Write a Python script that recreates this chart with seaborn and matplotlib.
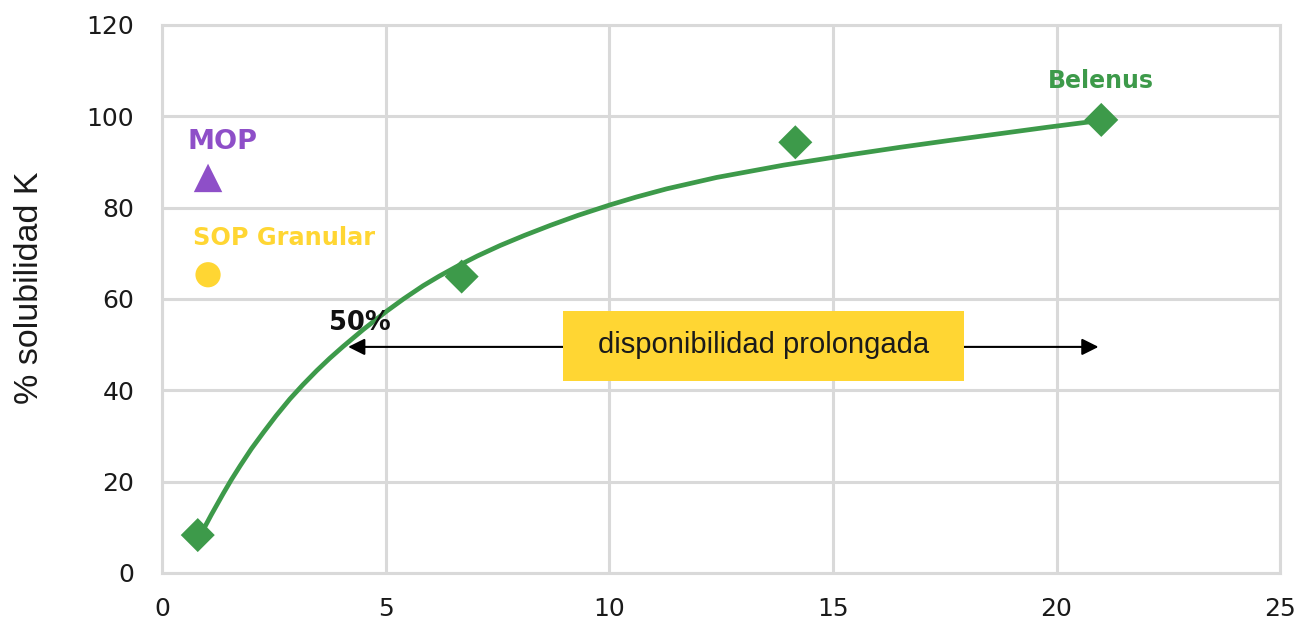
import numpy as np
import pandas as pd
import seaborn as sns
import matplotlib
matplotlib.use("Agg")
import matplotlib.pyplot as plt
from matplotlib.patches import Rectangle

# data
belenus_x = [0.8, 6.7, 14.16, 21.0]
belenus_y = [8.3, 64.9, 94.3, 99.2]
mop_x, mop_y = [1.03], [86.5]
sop_x, sop_y = [1.03], [65.3]
# trend curve
curve_x = [0.92, 1.1, 1.37, 1.55, 1.75, 2.0, 2.27, 2.55, 2.86, 3.15, 3.46, 3.75, 4.05,
           4.5, 5.02, 5.4, 5.84, 6.2, 6.59, 7.05, 7.56, 8.1, 8.68, 9.3, 10.02, 10.6,
           11.28, 12.4, 13.9, 15.4, 16.5, 17.6, 18.74, 19.8, 20.76, 21.0]
curve_y = [9.4, 12.7, 17.4, 20.4, 23.5, 27.2, 30.8, 34.4, 38.1, 41.2, 44.3, 47.0, 49.6,
           53.3, 57.3, 60.0, 62.9, 65.0, 67.1, 69.4, 71.7, 73.9, 76.1, 78.3, 80.6, 82.3,
           84.1, 86.6, 89.3, 91.6, 93.2, 94.7, 96.2, 97.6, 98.8, 99.1]
x_ticks = [0, 5, 10, 15, 20, 25]
y_ticks = [0, 20, 40, 60, 80, 100, 120]

green = "#3D9A4A"
purple = "#8E4FC8"
yellow = "#FFD633"
grid_c = "#D9D9D9"

sns.set_style("white")
plt.rcParams["font.family"] = ["DejaVu Sans"]
fig = plt.figure(figsize=(13.01, 6.23), dpi=100)
ax = fig.add_axes([0.1245, 0.0803, 0.8595, 0.8797])

curve = pd.DataFrame({"x": curve_x, "y": curve_y})
sns.lineplot(data=curve, x="x", y="y", sort=False, color=green, linewidth=3.4,
             solid_joinstyle="round", solid_capstyle="round", ax=ax)
pts = pd.DataFrame({"x": belenus_x, "y": belenus_y})
sns.scatterplot(data=pts, x="x", y="y", marker="D", s=300, color=green, edgecolor="none", ax=ax, zorder=5)
sns.scatterplot(x=mop_x, y=mop_y, marker="^", s=420, color=purple, edgecolor="none", ax=ax, zorder=5)
sns.scatterplot(x=sop_x, y=sop_y, marker="o", s=330, color=yellow, edgecolor="none", ax=ax, zorder=5)

ax.set_xlim(0, 25)
ax.set_ylim(0, 120)
ax.set_xticks(x_ticks)
ax.set_yticks(y_ticks)
ax.grid(True, color=grid_c, linewidth=2.2)
ax.set_axisbelow(True)
for s in ax.spines.values():
    s.set_color(grid_c)
    s.set_linewidth(2.2)
ax.tick_params(length=0, colors="#1a1a1a", labelsize=18)
ax.tick_params(axis="y", pad=20)
ax.tick_params(axis="x", pad=17)
ax.set_xlabel("")
ax.set_ylabel("% solubilidad K", fontsize=24.5, family="Liberation Sans", color="#1a1a1a")
ax.yaxis.set_label_coords(-0.105, 0.52)

ax.text(1.36, 94.4, "MOP", color=purple, fontsize=19.5, fontweight="bold", ha="center", va="center")
ax.text(0.7, 73.4, "SOP Granular", color=yellow, fontsize=17.3, fontweight="bold", ha="left", va="center")
ax.text(21.0, 107.8, "Belenus", color=green, fontsize=17, fontweight="bold", ha="center", va="center")
ax.text(4.43, 54.8, "50%", color="#111111", fontsize=18.5, fontweight="bold", ha="center", va="center")

# double arrow for prolonged availability
ax.annotate("", xy=(4.1, 49.5), xytext=(13.4, 49.5),
            arrowprops=dict(arrowstyle="-|>", color="black", lw=1.5, mutation_scale=25), zorder=4)
ax.annotate("", xy=(21.0, 49.5), xytext=(13.4, 49.5),
            arrowprops=dict(arrowstyle="-|>", color="black", lw=1.5, mutation_scale=25), zorder=4)
ax.add_patch(Rectangle((8.97, 42.0), 8.95, 15.4, facecolor=yellow, edgecolor="none", zorder=6))
ax.text(13.45, 50.0, "disponibilidad prolongada", fontsize=21, family="Liberation Sans",
        ha="center", va="center", color="#1a1a1a", zorder=7)

fig.savefig("out.png", dpi=100)
